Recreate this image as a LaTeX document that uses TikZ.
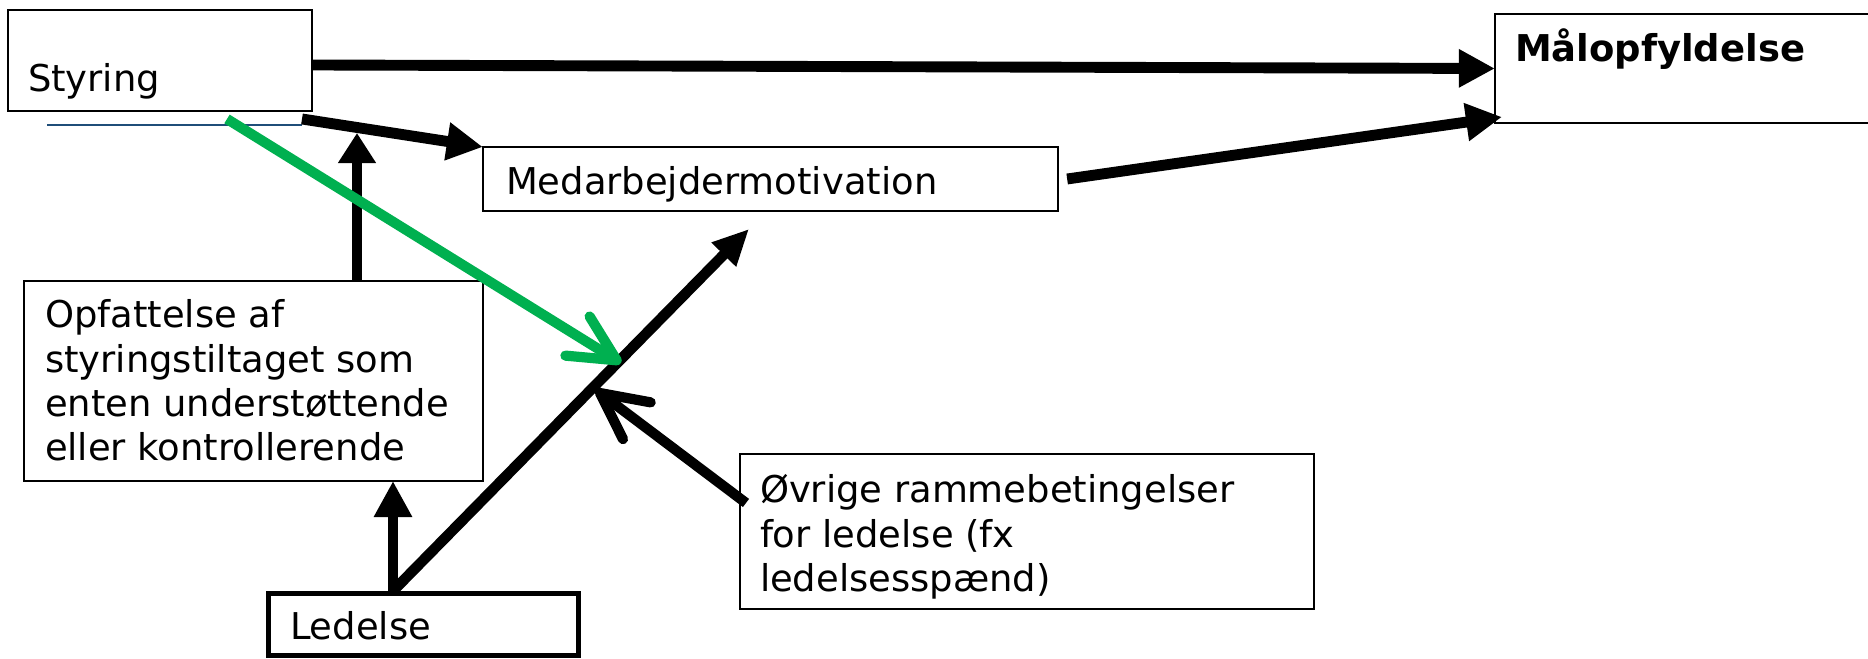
\documentclass[tikz,border=0pt]{standalone}
\usepackage{fontspec}
\setmainfont{DejaVu Sans}
\usetikzlibrary{arrows.meta,calc}
\definecolor{arrowgreen}{HTML}{00B050}
\definecolor{ruleblue}{HTML}{1F4E79}
% multi-line box text whose reference point is the first baseline
\newcommand{\linesof}[1]{\parbox[t]{8cm}{\fontsize{10.5}{12.6}\selectfont\raggedright #1}}

\begin{document}
\begin{tikzpicture}[x=0.01cm, y=-0.01cm,
  box/.style={draw, line width=0.57pt, inner sep=0pt, outer sep=0pt},
  boxtext/.style={anchor=base west, inner sep=0pt, outer sep=0pt,
    font=\fontsize{10.5}{12.6}\selectfont},
  bigarrow/.style={line width=3.1pt, -{Triangle[length=0.36cm,width=0.36cm]}},
  barbarrow/.style={line width=2.9pt, -{Straight Barb[length=0.46cm,width=0.46cm,round]}},
]
\useasboundingbox (0,0) rectangle (1868,659);

% boxes
\node[box, minimum width=3.04cm, minimum height=1.01cm] (sty) at (160,60.5) {};
\node[box, minimum width=5.75cm, minimum height=0.64cm] (med) at (770.5,179) {};
\node[box, minimum width=3.85cm, minimum height=1.09cm] (maal) at (1687.5,68.5) {};
\node[box, minimum width=4.59cm, minimum height=2.00cm] (opf) at (253.5,381) {};
\node[box, line width=1.4pt, minimum width=3.10cm, minimum height=0.62cm] (led) at (423.5,624.5) {};
\node[box, minimum width=5.74cm, minimum height=1.55cm] (ovr) at (1027,531.5) {};

% texts
\node[boxtext] (t-sty) at (28,92) {Styring};
\node[boxtext, font=\fontsize{10.5}{12.6}\selectfont\bfseries] (t-maal) at (1515,62) {Målopfyldelse};
\node[boxtext] (t-med) at (506,195) {Medarbejdermotivation};
\node[boxtext] (t-opf) at (45,328) {\linesof{Opfattelse af\\styringstiltaget som\\enten understøttende\\eller kontrollerende}};
\node[boxtext] (t-led) at (290,640) {Ledelse};
\node[boxtext] (t-ovr) at (760,503) {\linesof{Øvrige rammebetingelser\\for ledelse (fx\\ledelsesspænd)}};

% connector end points
\coordinate (bl1) at (47,125);
\coordinate (bl2) at (302,125);
\coordinate (s2) at (302,119);
\coordinate (j1) at (357,133);
\coordinate (lt) at (393,591);
\coordinate (dg) at (749,229);
\coordinate (gs) at (227,119);
\coordinate (gt) at (621,363);
\coordinate (os) at (746,503);
\coordinate (ot) at (596,390);
\coordinate (mt) at (1502,117);

% thin rule under Styring
\draw[ruleblue, line width=0.4pt] (bl1) -- (bl2);

% connectors
\draw[bigarrow] ([yshift=-0.045cm]sty.east) -- (maal.west);
\draw[bigarrow] (s2) -- (med.north west);
\draw[line width=3.1pt, -{Triangle[length=0.30cm,width=0.36cm]}] (j1 |- opf.north) -- (j1);
\draw[bigarrow] (lt) -- (lt |- opf.south);
\draw[line width=3pt, -{Triangle[length=0.36cm,width=0.32cm]}] (lt) -- (dg);
\draw[bigarrow] ([xshift=0.09cm]med.east) -- (mt);
\draw[barbarrow] (os) -- (ot);
\draw[barbarrow, arrowgreen] (gs) -- (gt);
\end{tikzpicture}
\end{document}
